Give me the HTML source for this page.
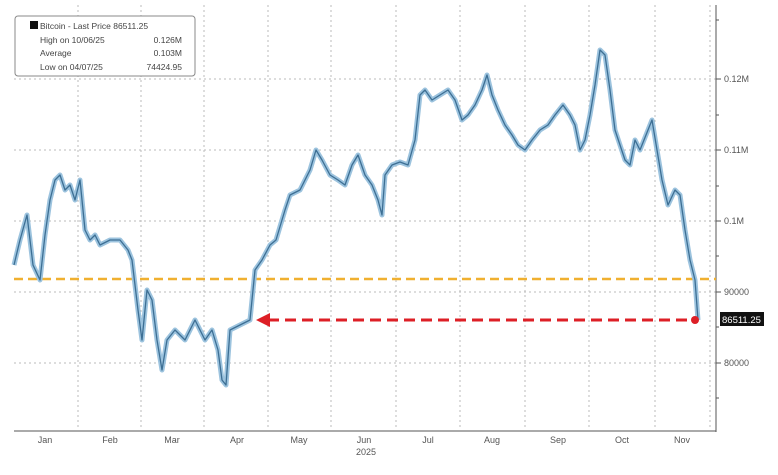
<!DOCTYPE html>
<html><head><style>
body{margin:0;background:#fff;}
svg{display:block;font-family:"Liberation Sans",sans-serif;}
</style></head><body>
<svg width="778" height="475" viewBox="0 0 778 475">
<rect width="778" height="475" fill="#fff"/>
<g stroke="#bbb" stroke-width="1" stroke-dasharray="2,3">
<line x1="14" y1="79" x2="716" y2="79"/><line x1="14" y1="150" x2="716" y2="150"/>
<line x1="14" y1="221" x2="716" y2="221"/><line x1="14" y1="292" x2="716" y2="292"/>
<line x1="14" y1="363" x2="716" y2="363"/>
<line x1="78" y1="5" x2="78" y2="430"/><line x1="141" y1="5" x2="141" y2="430"/>
<line x1="204" y1="5" x2="204" y2="430"/><line x1="268" y1="5" x2="268" y2="430"/>
<line x1="331" y1="5" x2="331" y2="430"/><line x1="396" y1="5" x2="396" y2="430"/>
<line x1="460" y1="5" x2="460" y2="430"/><line x1="525" y1="5" x2="525" y2="430"/>
<line x1="589" y1="5" x2="589" y2="430"/><line x1="655" y1="5" x2="655" y2="430"/>
<line x1="710" y1="5" x2="710" y2="430"/>
</g>
<line x1="716" y1="5" x2="716" y2="432" stroke="#555" stroke-width="1"/>
<line x1="14" y1="431" x2="716" y2="431" stroke="#555" stroke-width="1"/>
<g stroke="#555">
<line x1="716" y1="79" x2="721" y2="79"/><line x1="716" y1="150" x2="721" y2="150"/>
<line x1="716" y1="221" x2="721" y2="221"/><line x1="716" y1="292" x2="721" y2="292"/>
<line x1="716" y1="363" x2="721" y2="363"/>
<line x1="716" y1="20" x2="719" y2="20"/><line x1="716" y1="115" x2="719" y2="115"/>
<line x1="716" y1="186" x2="719" y2="186"/><line x1="716" y1="256" x2="719" y2="256"/>
<line x1="716" y1="327" x2="719" y2="327"/><line x1="716" y1="398" x2="719" y2="398"/>
</g>
<g font-size="9" fill="#555">
<text x="724" y="82">0.12M</text><text x="724" y="153">0.11M</text>
<text x="724" y="224">0.1M</text><text x="724" y="295">90000</text>
<text x="724" y="366">80000</text>
</g>
<rect x="720" y="312" width="44" height="14" fill="#111"/>
<text x="722" y="323" font-size="9.5" fill="#fff">86511.25</text>
<g font-size="9" fill="#555" text-anchor="middle">
<text x="45" y="443">Jan</text><text x="110" y="443">Feb</text><text x="172" y="443">Mar</text>
<text x="237" y="443">Apr</text><text x="299" y="443">May</text><text x="364" y="443">Jun</text>
<text x="428" y="443">Jul</text><text x="492" y="443">Aug</text><text x="558" y="443">Sep</text>
<text x="622" y="443">Oct</text><text x="682" y="443">Nov</text>
<text x="366" y="455">2025</text>
</g>
<line x1="14" y1="279" x2="716" y2="279" stroke="#f0b030" stroke-width="2.5" stroke-dasharray="9,5"/>
<g fill="none" stroke-linejoin="round">
<polyline stroke="#9cc3de" stroke-width="5" points="14,265 20,240 27,215 33,265 40,280 45,235 50,200 55,180 60,175 65,190 70,185 75,200 80,180 85,230 90,240 95,235 100,245 110,240 120,240 128,250 132,260 138,310 142,340 147,290 152,300 157,340 162,370 167,340 175,330 185,340 195,320 205,340 212,330 218,350 222,380 226,385 230,330 240,325 250,320 255,270 262,260 270,245 276,240 285,210 290,195 300,190 310,170 316,150 322,160 330,175 338,180 345,185 352,165 358,155 365,175 372,185 378,200 382,215 385,175 392,165 400,162 408,165 415,140 420,95 425,90 432,100 440,95 448,90 455,100 462,120 468,115 475,105 482,90 487,75 492,95 498,110 505,125 512,135 518,145 525,150 532,140 540,130 548,125 555,115 563,105 570,115 575,125 580,150 585,140 590,115 595,85 600,50 605,55 610,90 615,130 620,145 625,160 630,165 635,140 640,150 648,130 652,120 657,150 662,180 668,205 675,190 680,195 685,230 690,260 695,280 698,320"/>
<polyline stroke="#3d6f94" stroke-width="1.3" points="14,265 20,240 27,215 33,265 40,280 45,235 50,200 55,180 60,175 65,190 70,185 75,200 80,180 85,230 90,240 95,235 100,245 110,240 120,240 128,250 132,260 138,310 142,340 147,290 152,300 157,340 162,370 167,340 175,330 185,340 195,320 205,340 212,330 218,350 222,380 226,385 230,330 240,325 250,320 255,270 262,260 270,245 276,240 285,210 290,195 300,190 310,170 316,150 322,160 330,175 338,180 345,185 352,165 358,155 365,175 372,185 378,200 382,215 385,175 392,165 400,162 408,165 415,140 420,95 425,90 432,100 440,95 448,90 455,100 462,120 468,115 475,105 482,90 487,75 492,95 498,110 505,125 512,135 518,145 525,150 532,140 540,130 548,125 555,115 563,105 570,115 575,125 580,150 585,140 590,115 595,85 600,50 605,55 610,90 615,130 620,145 625,160 630,165 635,140 640,150 648,130 652,120 657,150 662,180 668,205 675,190 680,195 685,230 690,260 695,280 698,320"/>
</g>
<line x1="268" y1="320" x2="694" y2="320" stroke="#dd1f26" stroke-width="3" stroke-dasharray="11,6"/>
<polygon points="256,320 270,313 270,327" fill="#dd1f26"/>
<circle cx="695" cy="320" r="4" fill="#dd1f26"/>
<rect x="15" y="16" width="180" height="60" rx="3" fill="#fff" stroke="#888"/>
<g font-size="8.5" fill="#444">
<rect x="30" y="21" width="8" height="8" fill="#111"/>
<text x="40" y="29">Bitcoin - Last Price 86511.25</text>
<text x="40" y="43">High on 10/06/25</text><text x="182" y="43" text-anchor="end">0.126M</text>
<text x="40" y="56">Average</text><text x="182" y="56" text-anchor="end">0.103M</text>
<text x="40" y="70">Low on 04/07/25</text><text x="182" y="70" text-anchor="end">74424.95</text>
</g>
</svg>
</body></html>
